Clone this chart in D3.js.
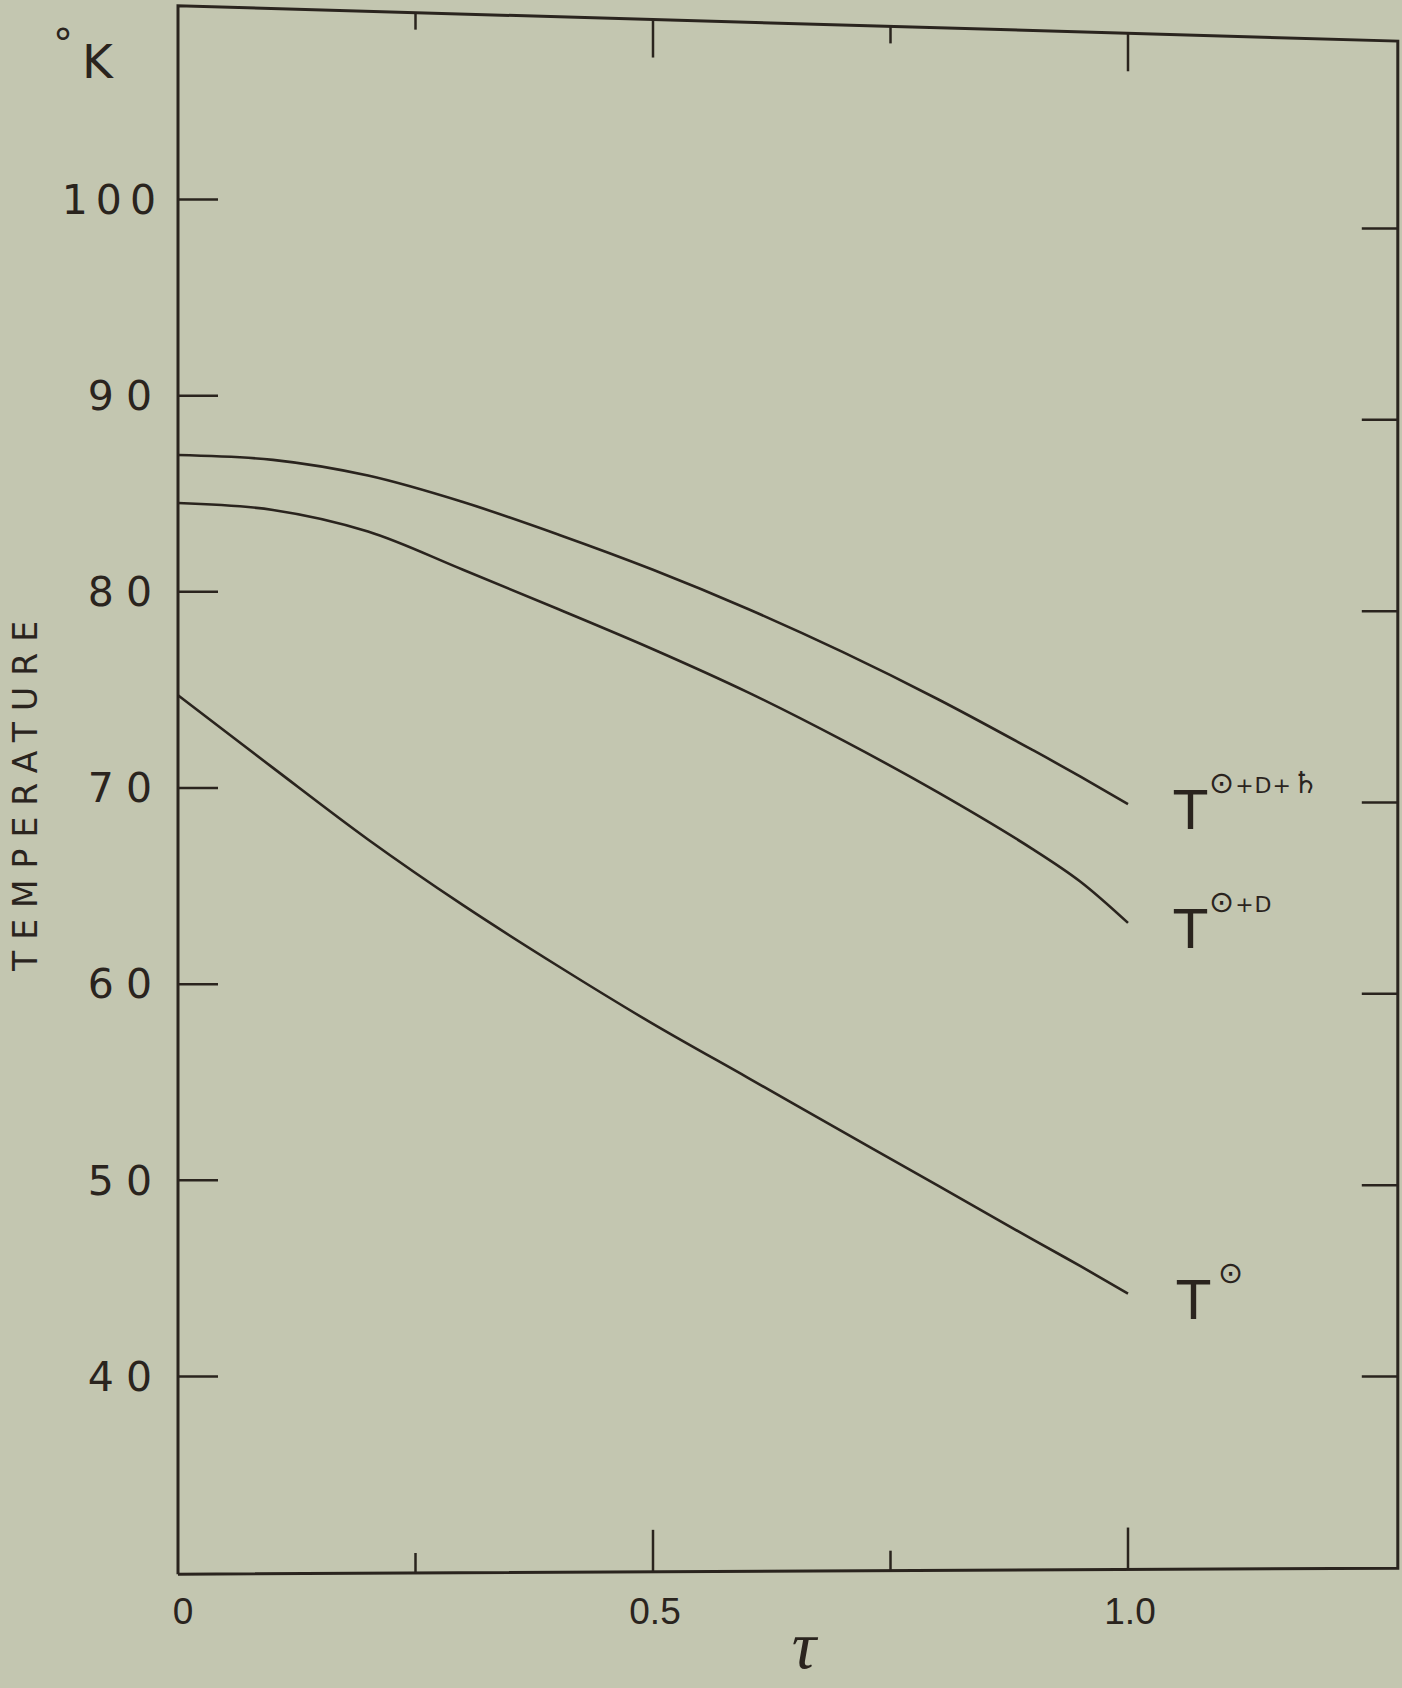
<!DOCTYPE html>
<html>
<head>
<meta charset="utf-8">
<script src="https://cdn.jsdelivr.net/npm/d3@7"></script>
<style>
  html, body { margin: 0; padding: 0; background: #c3c6b0; }
  svg { display: block; }
</style>
</head>
<body>
<svg id="chart"></svg>
<script>
"use strict";

// optical depth tau
var tau = [0, 0.1, 0.2, 0.3, 0.4, 0.5, 0.6, 0.7, 0.8, 0.9, 0.95, 1.0];

// temperature in deg K
var tSun = [74.7, 71.0, 67.35, 64.0, 60.9, 57.95, 55.2, 52.45, 49.7, 46.95, 45.6, 44.2];
var tSunMoon = [84.5, 84.15, 83.05, 81.1, 79.1, 77.05, 74.85, 72.4, 69.75, 66.85, 65.2, 63.1];
var tSunMoonSaturn = [86.95, 86.7, 85.9, 84.55, 82.9, 81.1, 79.1, 76.9, 74.5, 71.9, 70.55, 69.15];

var seriesNames = ["\u2299", "\u2299+D", "\u2299+D+\u2644"];

var yTicks = [40, 50, 60, 70, 80, 90, 100];
var yTickLabels = ["40", "50", "60", "70", "80", "90", "100"];
var xTicks = [0.25, 0.5, 0.75, 1.0];
var xTickLabels = ["0", "0.5", "1.0"];
var xLabelTicks = [0, 0.5, 1.0];

var width = 1402;
var height = 1688;
var ink = "#2a241e";

var svg = d3.select("#chart")
    .attr("width", width)
    .attr("height", height);

svg.append("rect")
    .attr("width", width)
    .attr("height", height)
    .attr("fill", "#c3c6b0");

// scales
var xMax = 1.284;
var x = d3.scaleLinear().domain([0, 1]).range([178, 1128]);
var y = d3.scaleLinear().domain([40, 100]).range([1376, 199]);
// the right hand scale of the original is printed a bit lower
var yRight = d3.scaleLinear().domain([40, 100]).range([1376, 228]);

// top and bottom edge of the frame are not quite level
var topEdge = d3.scaleLinear().domain([0, xMax]).range([109.85, 108.05]);
var bottomEdge = d3.scaleLinear().domain([0, xMax]).range([29.9, 30.2]);

var frame = [[0, bottomEdge(0)], [0, topEdge(0)], [xMax, topEdge(xMax)], [xMax, bottomEdge(xMax)], [0, bottomEdge(0)]];

svg.append("path")
    .attr("d", d3.line().x(d => x(d[0])).y(d => y(d[1]))(frame))
    .attr("fill", "none")
    .attr("stroke", ink)
    .attr("stroke-width", 3);

// left ticks
var leftAxis = svg.append("g")
    .attr("transform", "translate(" + x(0) + ",0)")
    .call(d3.axisRight(y).tickValues(yTicks).tickSize(40).tickFormat(""));
leftAxis.select(".domain").remove();

// right ticks
var rightAxis = svg.append("g")
    .attr("transform", "translate(" + x(xMax) + ",0)")
    .call(d3.axisLeft(yRight).tickValues(yTicks).tickSize(36).tickFormat(""));
rightAxis.select(".domain").remove();

svg.selectAll(".tick line")
    .attr("stroke", ink)
    .attr("stroke-width", 2.5);

// top ticks hang from the top edge
svg.append("g").selectAll("line")
    .data(xTicks)
    .enter()
    .append("line")
    .attr("x1", d => x(d))
    .attr("x2", d => x(d))
    .attr("y1", d => y(topEdge(d)))
    .attr("y2", d => y(topEdge(d)) + (d % 0.5 === 0 ? 38 : 17))
    .attr("stroke", ink)
    .attr("stroke-width", 2.5);

// bottom ticks stand on the bottom edge
svg.append("g").selectAll("line")
    .data(xTicks)
    .enter()
    .append("line")
    .attr("x1", d => x(d))
    .attr("x2", d => x(d))
    .attr("y1", d => y(bottomEdge(d)))
    .attr("y2", d => y(bottomEdge(d)) - (d % 0.5 === 0 ? 42 : 20))
    .attr("stroke", ink)
    .attr("stroke-width", 2.5);

// y tick labels
svg.append("g").selectAll("text")
    .data(yTicks)
    .enter()
    .append("text")
    .text((d, i) => yTickLabels[i])
    .attr("x", 164)
    .attr("y", d => y(d))
    .attr("dy", "0.36em")
    .attr("text-anchor", "end")
    .style("font-family", "DejaVu Sans")
    .style("font-size", "41px")
    .style("letter-spacing", d => d === 100 ? "8px" : "12px")
    .style("fill", ink);

// x tick labels
svg.append("g").selectAll("text")
    .data(xLabelTicks)
    .enter()
    .append("text")
    .text((d, i) => xTickLabels[i])
    .attr("x", d => x(d) + (d === 0 ? 5 : 2))
    .attr("y", 1624)
    .attr("text-anchor", "middle")
    .style("font-family", "Liberation Sans")
    .style("font-size", "37px")
    .style("fill", ink);

// axis titles
svg.append("text")
    .text("\u03c4")
    .attr("x", 804)
    .attr("y", 1668)
    .attr("text-anchor", "middle")
    .style("font-family", "Liberation Serif")
    .style("font-style", "italic")
    .style("font-size", "68px")
    .style("fill", ink);

svg.append("text")
    .text("TEMPERATURE")
    .attr("transform", "translate(37,796) rotate(-90)")
    .attr("text-anchor", "middle")
    .attr("textLength", 350)
    .attr("lengthAdjust", "spacing")
    .style("font-family", "DejaVu Sans")
    .style("font-size", "33px")
    .style("fill", ink);

var unit = svg.append("text")
    .attr("y", 78)
    .style("font-family", "DejaVu Sans")
    .style("fill", ink);
unit.append("tspan")
    .attr("x", 53)
    .attr("dy", -20)
    .style("font-size", "40px")
    .text("\u00b0");
unit.append("tspan")
    .attr("x", 82)
    .attr("dy", 20)
    .style("font-size", "47px")
    .text("K");

// curves
var series = [tSun, tSunMoon, tSunMoonSaturn];

var line = d3.line()
    .x((d, i) => x(tau[i]))
    .y(d => y(d))
    .curve(d3.curveCatmullRom.alpha(0.5));

svg.append("g").selectAll("path")
    .data(series)
    .enter()
    .append("path")
    .attr("d", d => line(d))
    .attr("fill", "none")
    .attr("stroke", ink)
    .attr("stroke-width", 2.6);

// curve labels: T with the symbols as superscript
var labels = svg.append("g").selectAll("text")
    .data(series)
    .enter()
    .append("text")
    .attr("x", (d, i) => x(1) + (i === 0 ? 49 : 46))
    .attr("y", d => y(d[d.length - 1]) + 25)
    .style("font-family", "DejaVu Sans")
    .style("fill", ink);

labels.append("tspan")
    .style("font-size", "54px")
    .text("T");

labels.each(function (d, i) {
    var label = d3.select(this);
    seriesNames[i].split("").forEach(function (ch, k) {
        var big = ch === "\u2299" || ch === "\u2644";
        label.append("tspan")
            .attr("dx", k === 0 ? (i === 0 ? 8 : 2) : 1)
            .attr("dy", k === 0 ? -36 : 0)
            .style("font-size", big ? "30px" : "22px")
            .text(ch);
    });
});
</script>
</body>
</html>
